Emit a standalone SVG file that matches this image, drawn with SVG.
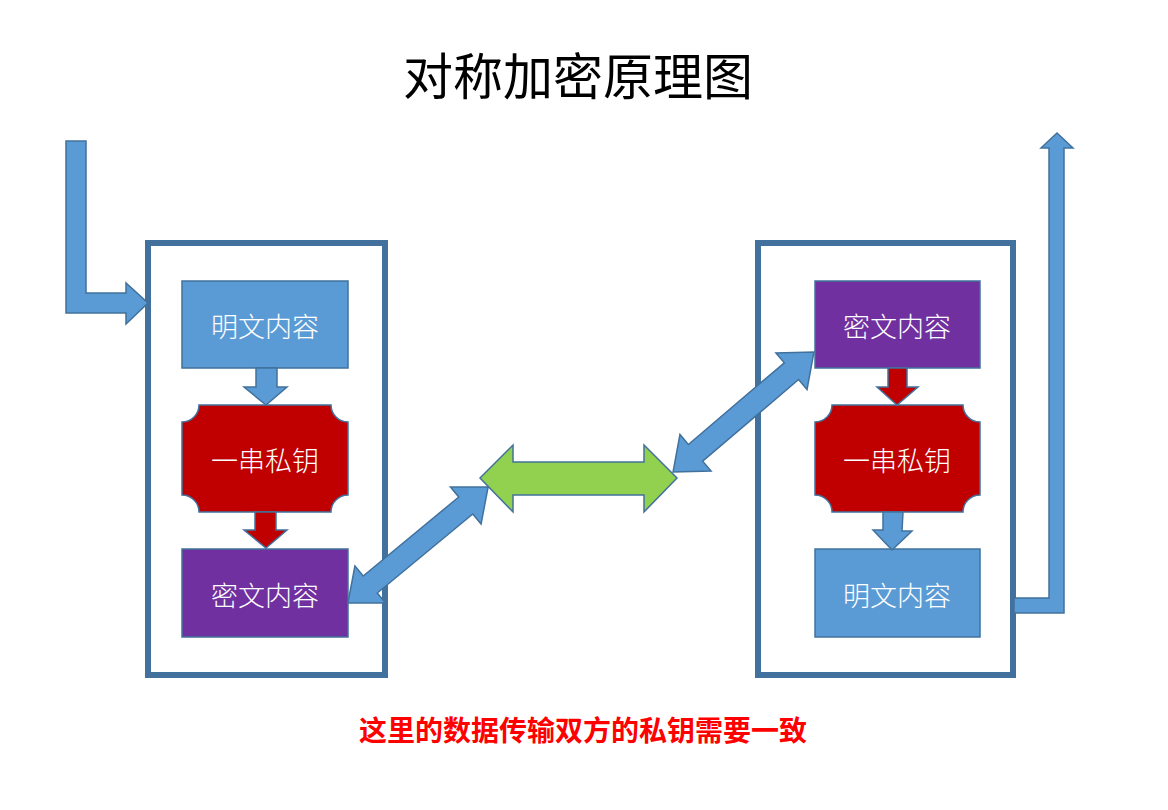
<svg xmlns="http://www.w3.org/2000/svg" width="1168" height="810" viewBox="0 0 1168 810">
<style>
.frame{fill:none;stroke:#41719C;stroke-width:6}
.blue{fill:#5B9BD5;stroke:#41719C;stroke-width:1.5}
.red{fill:#C00000;stroke:#41719C;stroke-width:1.5}
.purple{fill:#7030A0;stroke:#41719C;stroke-width:1.5}
.green{fill:#92D050;stroke:#41719C;stroke-width:1.5}
.lbl{font-family:"Noto Sans CJK SC","Noto Sans CJK JP",sans-serif;font-size:27px;fill:#FFFFFF;text-anchor:middle;dominant-baseline:central;font-weight:300}
.title{font-family:"Noto Sans CJK SC",sans-serif;font-size:50px;fill:#000;text-anchor:middle}
.note{font-family:"Noto Sans CJK SC",sans-serif;font-size:28px;fill:#FF0000;text-anchor:middle;font-weight:bold}
</style>
<rect width="1168" height="810" fill="#FFFFFF"/>
<text class="title" x="578" y="95">对称加密原理图</text>

<g id="left-container"><rect class="frame" x="148" y="243" width="237" height="432"/></g>
<g id="right-container"><rect class="frame" x="758" y="243" width="255" height="432"/></g>

<g id="left-plain"><rect class="blue" x="182" y="281" width="166" height="87"/><text class="lbl" x="265" y="325">明文内容</text></g>
<g id="left-key"><path class="red" d="M199,405 L331,405 A17,17 0 0 0 348,422 L348,495 A17,17 0 0 0 331,512 L199,512 A17,17 0 0 0 182,495 L182,422 A17,17 0 0 0 199,405 Z"/><text class="lbl" x="265" y="459">一串私钥</text></g>
<g id="left-cipher"><rect class="purple" x="182" y="549" width="166" height="88"/><text class="lbl" x="265" y="594">密文内容</text></g>

<g id="right-cipher"><rect class="purple" x="815" y="281" width="165" height="87"/><text class="lbl" x="897" y="325">密文内容</text></g>
<g id="right-key"><path class="red" d="M832,405 L963,405 A17,17 0 0 0 980,422 L980,495 A17,17 0 0 0 963,512 L832,512 A17,17 0 0 0 815,495 L815,422 A17,17 0 0 0 832,405 Z"/><text class="lbl" x="897" y="459">一串私钥</text></g>
<g id="right-plain"><rect class="blue" x="815" y="549" width="165" height="88"/><text class="lbl" x="897" y="594">明文内容</text></g>

<g id="connectors">
<polygon class="blue" points="66,141 86,141 86,293 126,293 126,283 148,303 126,324 126,313 66,313"/>
<polygon class="blue" points="256,368 277,368 277,387 287,387 266,405 244,387 256,387"/>
<polygon class="red" points="255,512 276,512 276,530 287,530 266,548 244,530 255,530"/>
<polygon class="red" points="888,368 907,368 907,387 918,387 897,405 877,387 888,387"/>
<polygon class="blue" points="883,512 903,512 902,531 912,531 892,550 873,530 883,530"/>
<polygon class="blue" points="1014,598 1049,598 1049,148 1041,148 1057,133 1073,148 1064,148 1064,613 1014,613"/>
<polygon class="green" points="480,478 513,445 513,462 644,462 644,445 677,478 644,512 644,495 513,495 513,512"/>
<polygon class="blue" transform="translate(418,545) rotate(-39.6)" points="-91,0 -62,-24 -62,-11 62,-11 62,-24 91,0 62,24 62,11 -62,11 -62,24"/>
<polygon class="blue" transform="translate(743.5,412) rotate(-40.4)" points="-92.5,0 -63,-24 -63,-11 63,-11 63,-24 92.5,0 63,24 63,11 -63,11 -63,24"/>
</g>

<text class="note" x="583" y="741">这里的数据传输双方的私钥需要一致</text>
</svg>
